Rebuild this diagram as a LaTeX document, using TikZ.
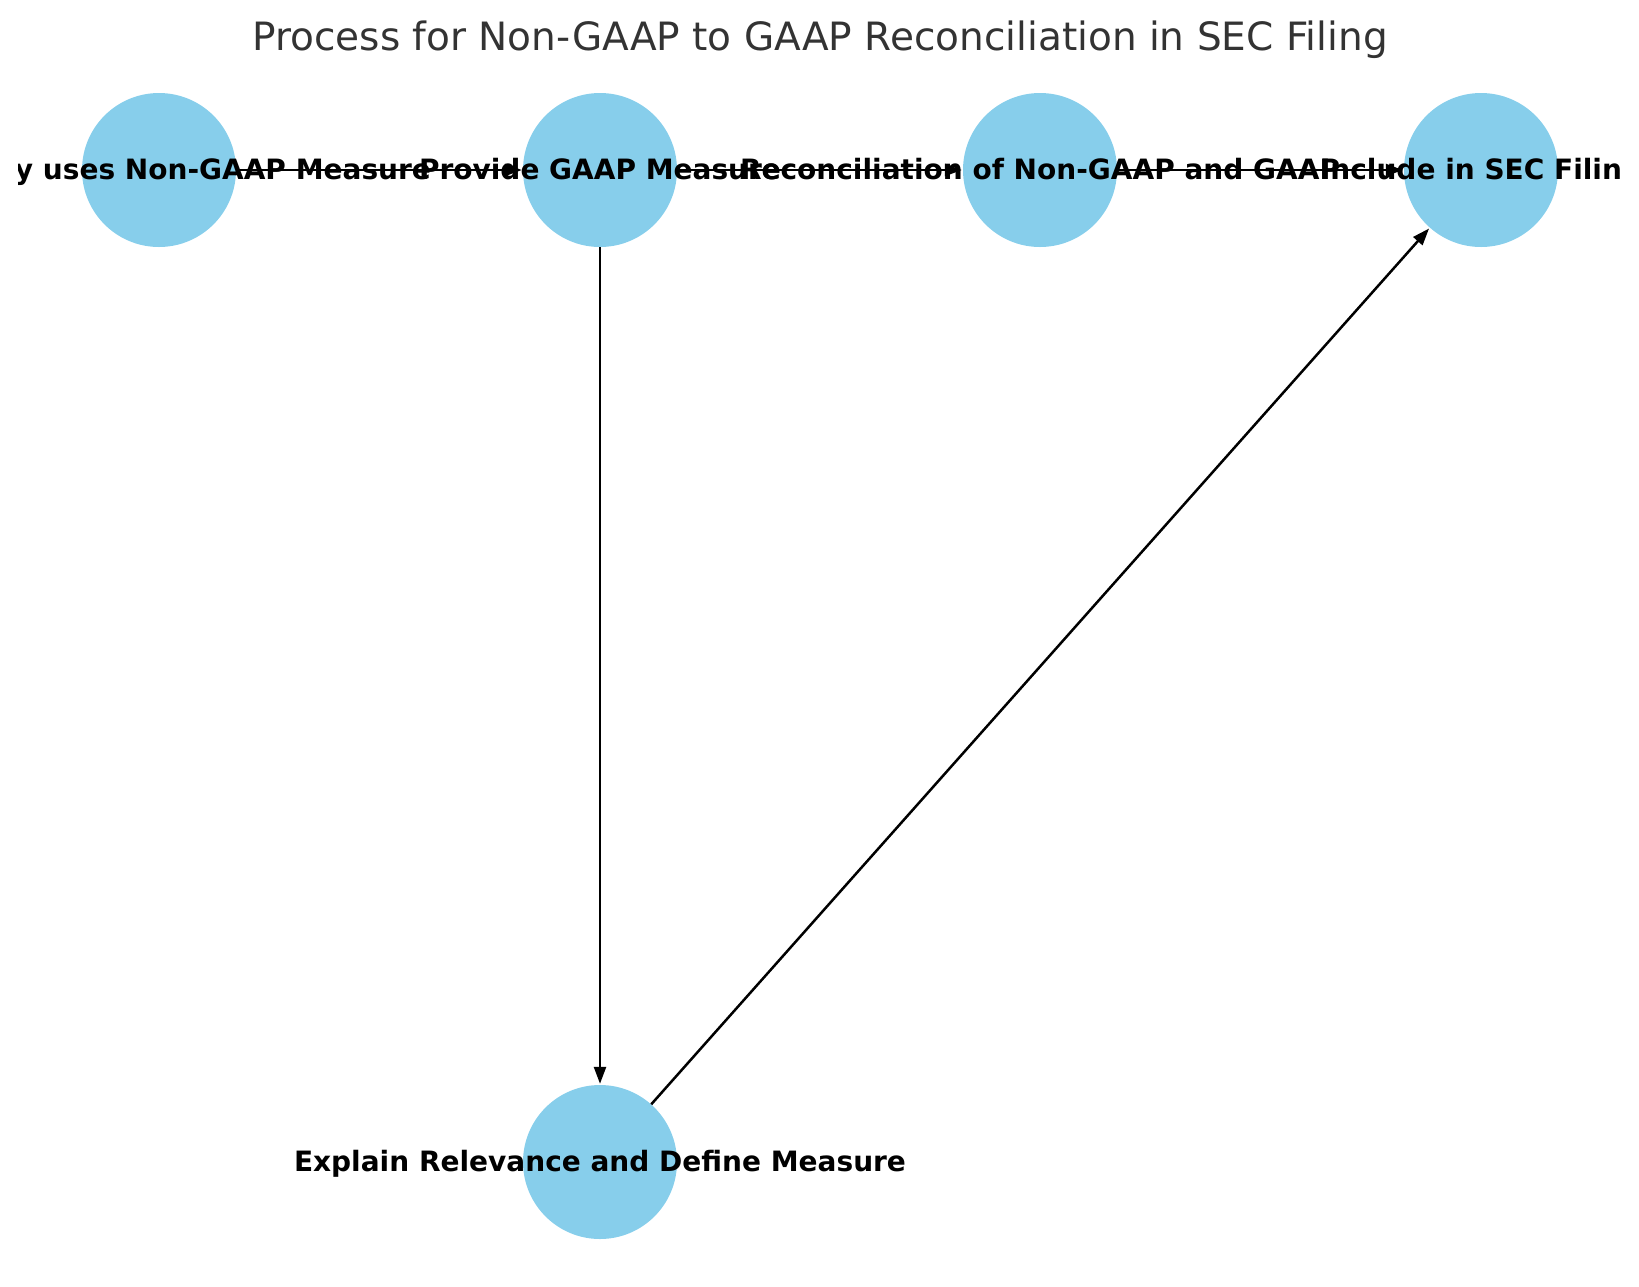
\documentclass[tikz,border=0pt]{standalone}
\usepackage{fontspec}
\setmainfont{DejaVu Sans}
\usetikzlibrary{arrows.meta}
\definecolor{skyblue}{HTML}{87CEEB}
\definecolor{titlegray}{HTML}{333333}
\tikzset{
  stage/.style={circle, fill=skyblue, minimum size=154pt, inner sep=0pt},
  stagelabel/.style={font=\fontsize{28}{33}\selectfont\bfseries, text=black, inner sep=0pt,
    anchor=base, yshift=-9pt},
  flow/.style={-{Triangle[length=17pt,width=12pt]}, line width=2.5pt, black, shorten >=1pt},
}
\begin{document}
\begin{tikzpicture}[x=1pt,y=-1pt]
  \useasboundingbox (0,0) rectangle (1639,1286);
  % stages
  \node[stage] (uses)    at (159,170)  {};
  \node[stage] (gaap)    at (600,170)  {};
  \node[stage] (recon)   at (1040,170) {};
  \node[stage] (filing)  at (1481,170) {};
  \node[stage] (explain) at (600,1162) {};
  % connectors
  \draw[flow] (uses) -- (gaap);
  \draw[flow] (gaap) -- (recon);
  \draw[flow] (recon) -- (filing);
  \draw[flow] (gaap) -- (explain);
  \draw[flow] (explain) -- (filing);
  % labels, clipped to the plot area
  \begin{scope}
    \clip (18,0) rectangle (1620,1286);
    \node[stagelabel] (usestext)    at (uses.center)    {Company uses Non-GAAP Measure};
    \node[stagelabel] (gaaptext)    at (gaap.center)    {Provide GAAP Measure};
    \node[stagelabel] (recontext)   at (recon.center)   {Reconciliation of Non-GAAP and GAAP};
    \node[stagelabel] (filingtext)  at (filing.center)  {Include in SEC Filing};
    \node[stagelabel] (explaintext) at (explain.center) {Explain Relevance and Define Measure};
  \end{scope}
  % title
  \node[font=\fontsize{39}{46}\selectfont, text=titlegray] (title) at (820,40) {Process for Non-GAAP to GAAP Reconciliation in SEC Filing};
\end{tikzpicture}
\end{document}
